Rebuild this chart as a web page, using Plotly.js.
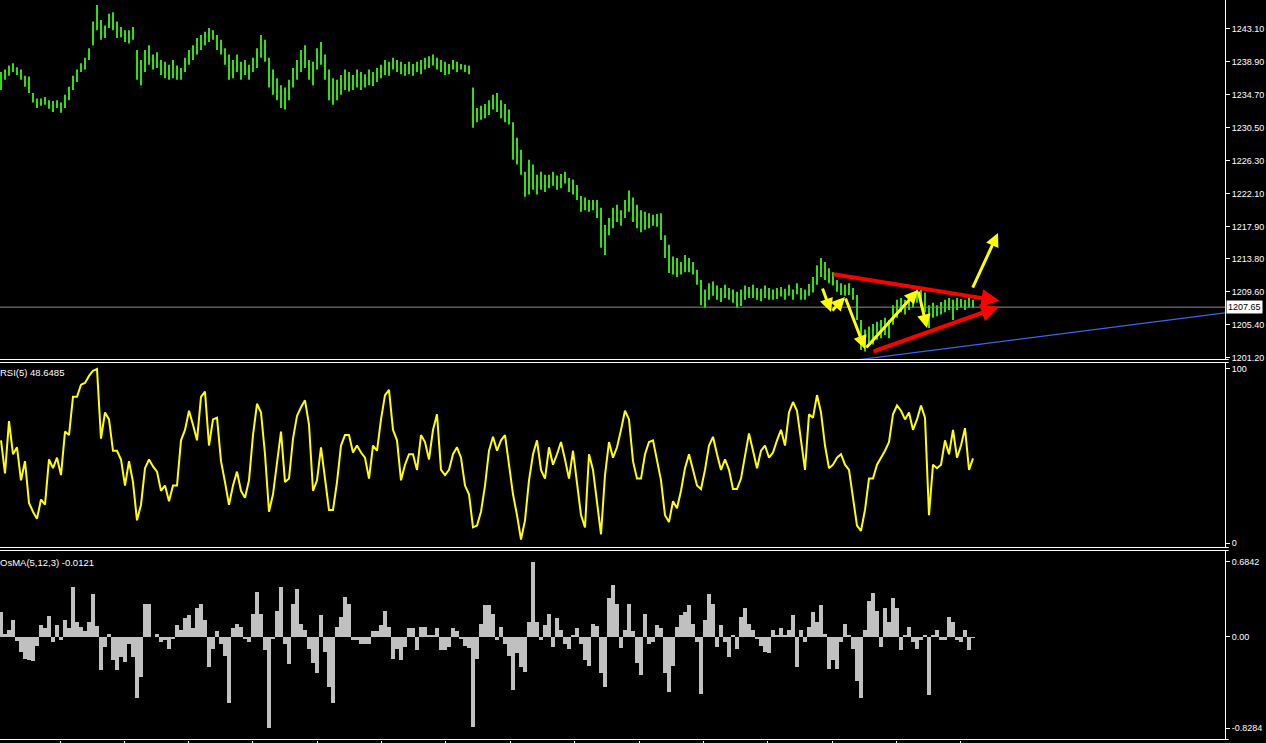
<!DOCTYPE html>
<html>
<head>
<meta charset="utf-8">
<script src="https://cdn.plot.ly/plotly-3.0.1.min.js"></script>
<style>
html,body{margin:0;padding:0;background:#000;}
#chart{width:1266px;height:743px;}
</style>
</head>
<body>
<div id="chart"></div>
<script>
// ---- price bars (high / low), one per bar ----
const highs = [
1237.6,1237.9,1238.4,1238.7,1238.2,1237.9,1237.1,1237.0,1234.9,1234.2,
1234.2,1234.4,1234.0,1233.9,1234.0,1233.7,1234.7,1235.7,1237.1,1237.9,
1238.7,1239.4,1240.6,1244.0,1246.1,1244.2,1243.5,1245.0,1245.2,1244.0,
1243.3,1242.9,1242.9,1243.3,1240.4,1239.1,1240.4,1241.0,1239.8,1240.1,
1239.1,1238.9,1238.5,1239.1,1238.4,1238.1,1239.4,1240.4,1241.0,1241.9,
1242.3,1242.7,1243.2,1242.9,1242.3,1241.7,1240.6,1239.8,1239.1,1239.8,
1238.9,1239.1,1238.5,1239.4,1240.6,1242.3,1241.7,1239.4,1237.9,1236.8,
1235.9,1235.6,1236.6,1238.1,1239.1,1240.4,1241.0,1239.1,1238.9,1240.6,
1241.4,1239.8,1237.9,1236.8,1236.6,1237.2,1237.9,1237.6,1237.2,1237.9,
1237.6,1237.3,1237.9,1237.6,1238.1,1238.5,1239.1,1238.9,1239.4,1239.1,
1238.9,1238.6,1238.9,1238.6,1238.9,1239.1,1239.4,1239.6,1239.8,1239.4,
1239.1,1238.9,1238.6,1239.1,1238.9,1238.6,1238.5,1238.4,1235.6,1233.0,
1233.3,1233.5,1234.0,1234.7,1234.9,1234.0,1233.5,1232.8,1231.2,1229.2,
1227.7,1224.9,1226.4,1225.8,1224.5,1224.9,1224.5,1224.5,1224.9,1224.4,
1224.6,1224.9,1224.1,1223.9,1223.2,1221.8,1221.6,1221.3,1221.3,1221.3,
1220.3,1218.1,1219.0,1220.3,1220.7,1220.0,1221.3,1222.5,1221.6,1220.7,
1220.0,1219.8,1219.6,1219.4,1219.5,1219.6,1216.8,1215.6,1214.1,1213.9,
1213.4,1214.3,1213.9,1213.4,1212.4,1211.1,1209.9,1210.7,1210.9,1210.4,
1210.1,1210.5,1210.1,1209.9,1209.6,1209.9,1210.4,1210.2,1210.5,1210.1,
1210.0,1210.4,1210.1,1209.9,1210.1,1210.2,1210.0,1210.5,1209.9,1210.7,
1210.1,1209.9,1210.6,1211.5,1213.0,1213.9,1213.4,1212.6,1212.1,1211.1,
1210.7,1210.5,1210.7,1210.1,1209.2,1206.0,1204.8,1205.2,1205.5,1205.8,
1206.0,1206.3,1206.0,1207.9,1208.6,1208.8,1208.6,1209.1,1209.3,1209.9,
1209.9,1209.5,1207.9,1208.2,1207.9,1208.3,1208.6,1208.8,1208.6,1208.8,
1208.7,1208.6,1208.8,1208.6];

const lows = [
1235.3,1236.6,1237.1,1237.6,1237.2,1236.6,1235.7,1234.9,1233.7,1233.0,
1233.3,1233.4,1232.9,1232.5,1233.0,1232.4,1233.0,1234.0,1235.3,1236.3,
1237.6,1237.9,1239.1,1241.0,1242.9,1241.7,1241.9,1243.2,1242.9,1241.9,
1242.0,1241.4,1241.2,1241.7,1236.6,1235.9,1237.6,1238.5,1237.9,1238.1,
1237.2,1236.8,1236.6,1236.8,1236.6,1236.6,1237.6,1238.5,1239.1,1239.8,
1240.4,1241.0,1241.4,1241.7,1240.4,1239.8,1238.5,1236.6,1236.8,1237.6,
1236.6,1237.2,1236.6,1237.6,1238.1,1239.4,1238.9,1235.6,1234.7,1234.0,
1233.0,1232.8,1234.0,1235.6,1236.6,1237.6,1238.1,1236.6,1235.9,1237.9,
1238.5,1236.6,1234.0,1233.4,1234.0,1234.7,1235.3,1235.1,1235.3,1235.6,
1235.3,1235.6,1235.9,1235.8,1236.3,1236.8,1237.2,1237.1,1237.9,1237.6,
1237.3,1237.1,1237.3,1237.1,1237.6,1237.3,1237.9,1238.1,1238.4,1237.9,
1237.6,1237.2,1237.3,1237.9,1237.6,1237.9,1237.6,1237.3,1230.5,1231.2,
1231.5,1231.7,1232.1,1232.8,1232.5,1231.7,1231.2,1230.9,1226.4,1225.8,
1224.5,1221.7,1222.0,1222.6,1222.0,1222.6,1222.3,1222.8,1223.1,1222.6,
1222.8,1223.4,1222.3,1222.0,1221.3,1219.8,1220.0,1219.8,1220.0,1219.0,
1215.2,1214.3,1216.8,1217.7,1218.5,1218.0,1219.0,1219.8,1218.5,1217.7,
1217.2,1217.5,1217.7,1218.0,1217.9,1216.2,1213.9,1212.0,1211.8,1211.5,
1211.8,1212.1,1212.1,1211.8,1210.5,1207.9,1207.6,1208.6,1209.1,1208.6,
1208.3,1208.8,1208.6,1208.2,1207.6,1207.8,1208.6,1208.8,1208.8,1208.6,
1208.4,1208.8,1208.6,1208.6,1208.7,1209.0,1208.6,1209.1,1208.6,1209.3,
1208.6,1208.6,1209.1,1209.5,1210.5,1211.5,1211.1,1210.7,1210.4,1209.6,
1209.2,1209.1,1209.2,1208.6,1206.0,1202.2,1202.0,1203.1,1202.9,1203.5,
1203.7,1204.1,1203.7,1205.4,1206.3,1207.0,1206.7,1207.3,1207.6,1208.2,
1207.7,1207.0,1205.0,1206.3,1206.5,1206.7,1207.0,1207.3,1206.0,1207.3,
1207.6,1207.3,1207.6,1207.6];

// ---- RSI(5) ----
const rsi = [
59,40,70,51,55,36,47,23,18,14,
25,22,48,43,49,39,64,62,84,84,
91,92,96,99,100,60,75,71,53,53,
48,33,47,35,13,22,43,48,44,41,
30,33,24,33,33,59,65,76,68,59,
84,87,56,71,72,47,35,22,33,41,
30,26,36,62,80,75,51,18,28,47,
64,35,37,60,73,78,82,68,30,36,
55,37,19,19,35,56,62,62,52,56,
52,49,37,56,53,71,85,88,65,59,
36,45,51,51,42,62,58,48,65,74,
42,39,42,51,55,49,33,28,9,10,
18,33,53,61,53,59,62,45,28,16,
2,13,36,51,59,42,37,55,45,51,
58,48,37,53,36,16,9,51,42,22,
5,39,58,49,55,65,76,71,47,37,
37,51,58,59,47,36,16,12,24,20,
30,43,51,42,33,31,42,56,61,51,
42,48,42,31,31,37,49,63,53,43,
53,56,49,52,59,65,56,75,81,76,
59,42,74,72,85,75,56,43,45,49,
51,45,42,25,10,7,19,37,37,45,
49,53,58,74,79,76,71,75,65,71,
79,72,16,45,43,45,59,51,65,49,
56,66,42,48.65];

// ---- OsMA(5,12,3) ----
const osma = [
0.23,0.03,0.06,0.15,-0.04,-0.14,-0.2,-0.21,-0.22,-0.08,
0.11,0.08,0.19,-0.05,0.11,-0.03,0.15,0.08,0.45,0.14,
0.09,0.05,0.14,0.39,0.1,-0.3,-0.09,0.03,-0.21,-0.3,
-0.18,-0.23,-0.06,-0.18,-0.55,-0.36,0.30,0.3,0.0,0.03,
-0.05,-0.03,-0.11,-0.02,0.11,0.06,0.17,0.20,0.08,0.26,
0.30,0.15,-0.27,-0.11,0.05,-0.06,-0.17,-0.6,0.08,0.12,
0.09,-0.02,-0.05,0.21,0.41,0.21,-0.12,-0.83,-0.02,0.24,
0.45,-0.06,-0.25,0.30,0.44,0.12,0.06,-0.11,-0.24,-0.33,
0.2,-0.14,-0.45,-0.6,0.09,0.18,0.36,0.30,-0.03,-0.03,
-0.06,-0.06,-0.06,0.05,0.05,0.11,0.24,0.09,-0.2,-0.11,
-0.21,-0.09,0.08,0.08,-0.12,0.09,0.09,0.02,0.02,0.08,
-0.12,-0.12,-0.09,0.08,0.05,-0.02,-0.08,-0.1,-0.82,-0.2,
0.12,0.29,0.29,0.21,-0.03,0.09,-0.06,-0.17,-0.48,-0.15,
-0.27,-0.32,0.14,0.68,0.14,-0.03,0.11,0.21,-0.09,0.17,
0.06,-0.06,-0.11,0.02,0.08,-0.06,-0.21,-0.26,0.12,0.1,
-0.33,-0.45,0.35,0.47,0.3,-0.1,0.06,0.3,0.05,-0.24,
-0.35,0.21,-0.06,-0.05,0.11,0.08,-0.33,-0.5,-0.26,0.09,
0.20,0.23,0.29,0.12,-0.05,-0.52,0.15,0.39,0.30,-0.09,
0.11,-0.05,-0.18,0.02,-0.11,0.18,0.26,0.12,0.06,-0.02,
-0.08,-0.14,-0.15,0.06,0.02,0.08,0.02,0.06,0.20,-0.27,
0.06,-0.05,0.09,0.23,0.14,0.29,0.03,-0.29,-0.21,-0.29,
-0.05,0.12,0.02,-0.11,-0.4,-0.55,0.06,0.33,0.4,0.24,
-0.09,0.26,0.14,0.35,0.26,-0.12,0.02,0.09,-0.05,-0.11,
-0.03,0.02,-0.53,0.02,0.06,-0.03,-0.03,0.18,0.14,-0.03,
-0.05,0.06,-0.12,-0.0121];

// ---- axis ticks ----
const priceTicks = [1201.20,1205.40,1209.60,1213.80,1217.90,1222.10,1226.30,1230.50,1234.70,1238.90,1243.10];
const rsiTicks = [0,100];
const osmaTicks = [-0.8284,0,0.6842];
const osmaTickText = ['-0.8284','0.00','0.6842'];
const timeTicks = [14.75,30.75,46.75,62.75,79.0,95.0,111.0,127.25,143.25,159.5,175.5,191.5,207.75,223.75,239.75];
const currentPrice = 1207.65;

// ---- drawn objects (bar index, price) ----
const redArrows = [
  {from:[207.75,1211.87], to:[249.6,1208.45]},
  {from:[217.75,1201.94], to:[249.5,1207.7]}
];
const yellowArrows = [
  {from:[205.25,1210.22], to:[207.5,1207.03]},
  {from:[207.5,1207.03], to:[211.0,1208.94]},
  {from:[211.0,1208.94], to:[216.0,1202.32]},
  {from:[216.0,1202.32], to:[229.25,1209.83]},
  {from:[229.25,1209.83], to:[231.5,1205.0]},
  {from:[242.75,1209.96], to:[249.25,1217.09]}
];
const blueLine = {from:[213.75,1200.92], to:[306,1206.91]};

// ---- build traces ----
const bx = [], by = [];
highs.forEach((h,k)=>{ bx.push(k,k,null); by.push(lows[k],h,null); });
const idx = rsi.map((_,k)=>k);

const FONT = '"Liberation Sans",Arial,sans-serif';

const traces = [
  {type:'scatter', mode:'lines', x:bx, y:by, xaxis:'x', yaxis:'y',
   line:{color:'#33dd11', width:2}, hoverinfo:'skip', connectgaps:false},
  {type:'scatter', mode:'lines', x:idx, y:rsi, xaxis:'x2', yaxis:'y2',
   line:{color:'#ffff00', width:2}, hoverinfo:'skip'},
  {type:'bar', x:idx, y:osma, xaxis:'x3', yaxis:'y3', width:1,
   marker:{color:'#c0c0c0', line:{width:0}}, hoverinfo:'skip'}
];

const H = 740;
const pf = px => 1 - px/H;   // paper fraction from pixel row

const axX = {range:[-0.25,306], showgrid:false, zeroline:false, showticklabels:false, ticks:'', showline:false, fixedrange:true};
const tickFont = {family:FONT, size:9, color:'#ffffff'};
const axY = {side:'right', showgrid:false, zeroline:false, ticks:'outside', ticklen:4, tickcolor:'#ffffff', tickwidth:1,
  showline:true, linecolor:'#ffffff', linewidth:1, tickfont:tickFont, fixedrange:true};

const annotations = [
  {xref:'paper', yref:'paper', x:0, y:pf(372), xanchor:'left', yanchor:'middle', xshift:-2, showarrow:false,
   text:'RSI(5) 48.6485', font:{family:FONT, size:9.5, color:'#ffffff'}},
  {xref:'paper', yref:'paper', x:0, y:pf(562), xanchor:'left', yanchor:'middle', xshift:-2, showarrow:false,
   text:'OsMA(5,12,3) -0.0121', font:{family:FONT, size:9.5, color:'#ffffff'}},
  {xref:'paper', yref:'y', x:1, y:currentPrice, xanchor:'left', yanchor:'middle', xshift:1, showarrow:false,
   text:currentPrice.toFixed(2), bgcolor:'#ffffff', borderpad:1, font:{family:FONT, size:9, color:'#000000'}}
];
redArrows.forEach(a=>annotations.push({xref:'x', yref:'y', axref:'x', ayref:'y', x:a.to[0], y:a.to[1], ax:a.from[0], ay:a.from[1],
  showarrow:true, arrowhead:2, arrowsize:0.9, arrowwidth:4, arrowcolor:'#ff0000', text:'', standoff:0}));
yellowArrows.forEach(a=>annotations.push({xref:'x', yref:'y', axref:'x', ayref:'y', x:a.to[0], y:a.to[1], ax:a.from[0], ay:a.from[1],
  showarrow:true, arrowhead:2, arrowsize:0.9, arrowwidth:3, arrowcolor:'#ffff00', text:'', standoff:0}));

const white = {color:'#ffffff', width:1};
const shapes = [
  {type:'line', xref:'x', yref:'y', x0:-0.25, x1:306, y0:currentPrice, y1:currentPrice, line:{color:'#8c8c8c', width:1}, layer:'below'},
  {type:'line', xref:'x', yref:'y', x0:blueLine.from[0], y0:blueLine.from[1], x1:blueLine.to[0], y1:blueLine.to[1], line:{color:'#3c64f0', width:1.2}},
  {type:'line', xref:'paper', yref:'paper', x0:0, x1:1.003, y0:pf(359.5), y1:pf(359.5), line:white},
  {type:'line', xref:'paper', yref:'paper', x0:0, x1:1.003, y0:pf(362.5), y1:pf(362.5), line:white},
  {type:'line', xref:'paper', yref:'paper', x0:0, x1:1.003, y0:pf(547.5), y1:pf(547.5), line:white},
  {type:'line', xref:'paper', yref:'paper', x0:0, x1:1.003, y0:pf(550.5), y1:pf(550.5), line:white},
  {type:'line', xref:'paper', yref:'paper', x0:0, x1:1.003, y0:pf(739.5), y1:pf(739.5), line:white}
];

const layout = {
  width:1266, height:743,
  margin:{l:0, r:41, t:0, b:3, pad:0},
  paper_bgcolor:'#000000', plot_bgcolor:'#000000',
  showlegend:false, bargap:0, dragmode:false,
  font:{family:FONT, color:'#ffffff', size:9},
  xaxis: Object.assign({}, axX, {anchor:'y', domain:[0,1]}),
  xaxis2: Object.assign({}, axX, {anchor:'y2', domain:[0,1], matches:'x'}),
  xaxis3: Object.assign({}, axX, {anchor:'y3', domain:[0,1], matches:'x', ticks:'outside', tickvals:timeTicks,
          ticklen:3, tickcolor:'#ffffff', tickwidth:1}),
  yaxis: Object.assign({}, axY, {anchor:'x', domain:[pf(359),1], range:[1201.05,1246.75],
          tickvals:priceTicks, ticktext:priceTicks.map(v=>v.toFixed(2))}),
  yaxis2: Object.assign({}, axY, {anchor:'x2', domain:[pf(547),pf(362)], range:[-2.3,104],
          tickvals:rsiTicks, ticktext:rsiTicks.map(String)}),
  yaxis3: Object.assign({}, axY, {anchor:'x3', domain:[0,pf(550)], range:[-0.936,0.79],
          tickvals:osmaTicks, ticktext:osmaTickText}),
  shapes:shapes,
  annotations:annotations
};

Plotly.newPlot('chart', traces, layout, {staticPlot:true, displayModeBar:false});
</script>
</body>
</html>
